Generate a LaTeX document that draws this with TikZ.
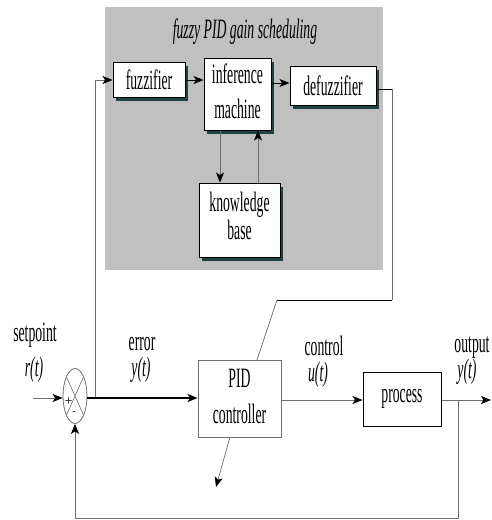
\documentclass[tikz,border=0pt]{standalone}
\usepackage{fontspec}
\setmainfont{Liberation Serif}
\usetikzlibrary{arrows.meta,shapes.geometric,shadows}
\definecolor{panelgray}{RGB}{192,192,192}
\definecolor{shadowc}{RGB}{28,66,66}
\definecolor{linegray}{RGB}{110,110,110}
% narrow Times-like lettering, one line and several lines
\newcommand{\nar}[1]{\scalebox{0.49}[1]{#1}}
\newcommand{\narr}[2][1.0]{\scalebox{0.49}[1]{\renewcommand\arraystretch{#1}\begin{tabular}{@{}c@{}}#2\end{tabular}}}
\tikzset{
  bigfont/.style={font=\fontsize{28}{30}\selectfont},
  lbl/.style={bigfont, inner sep=0pt, anchor=base},
  fzbox/.style={draw=black, line width=1pt, fill=white, inner sep=0pt, bigfont,
    drop shadow={shadow xshift=3pt, shadow yshift=-4pt, fill=shadowc, opacity=1}},
  ctlbox/.style={draw=linegray, line width=0.8pt, fill=white, inner sep=0pt, bigfont},
  tip/.style={-{Stealth[length=10pt,width=8pt,inset=2.5pt,black]}},
  thin/.style={draw=linegray, line width=0.7pt},
}
\begin{document}
\begin{tikzpicture}[x=1pt,y=-1pt]
\useasboundingbox (0,0) rectangle (491,520);
\fill[white] (0,0) rectangle (491,520);

% fuzzy gain scheduling panel
\node[fill=panelgray, minimum width=278pt, minimum height=263pt, inner sep=0pt] (panel) at (244,138.5) {};
\node[lbl, font=\fontsize{28}{30}\selectfont\itshape] (title) at (245,38) {\nar{fuzzy PID gain scheduling}};

\node[fzbox, minimum width=72pt, minimum height=35pt] (fuzz) at (149,79.5) {\nar{fuzzifier}};
\node[fzbox, minimum width=67pt, minimum height=72pt] (inf) at (237.5,94) {\narr[1.15]{inference\\machine}};
\node[fzbox, minimum width=86pt, minimum height=39pt] (defuzz) at (333,85.5) {\nar{defuzzifier}};
\node[fzbox, minimum width=81pt, minimum height=74pt] (kb) at (239.5,220) {\narr[0.92]{knowledge\\base}};

% control loop
\node[ctlbox, minimum width=83pt, minimum height=77pt] (pid) at (239.5,398.5) {\narr[1.17]{PID\\controller}};
\node[draw=black, line width=1pt, fill=white, inner sep=0pt, minimum width=78pt, minimum height=54pt,
      bigfont] (proc) at (402,399) {\nar{process}};
\node[ellipse, draw=linegray, line width=0.8pt, minimum width=24pt, minimum height=55pt, inner sep=0pt] (sum) at (75,396) {};
\draw[linegray, line width=0.6pt] (sum.north west) -- (sum.south east) (sum.north east) -- (sum.south west);
\node[font=\fontsize{14}{14}\selectfont, inner sep=0pt] (plus) at (68.5,402) {+};
\node[font=\fontsize{10}{10}\selectfont, inner sep=0pt] (minus) at (74,413) {-};

% coordinates for bends and free ends
\coordinate (src) at (33,398);
\coordinate (tap) at (95,398);
\coordinate (tapup) at (95,80);
\coordinate (dA) at (392,89);
\coordinate (dB) at (392,300);
\coordinate (dC) at (277,300);
\coordinate (dD) at (257,360);
\coordinate (pidout) at (230,437);
\coordinate (pidarr) at (216,487);
\coordinate (ytap) at (458,400);
\coordinate (yend) at (491,400);
\coordinate (fbA) at (458,518);
\coordinate (fbB) at (75,518);

% fuzzy block connectors
\draw[thin, tip] (tap) -- (tapup) -- (fuzz.west |- tapup);
\draw[black, line width=1pt, tip] (fuzz.east |- 0,80) -- (inf.west |- 0,80);
\draw[black, line width=1pt, tip] (inf.east |- 0,83) -- (defuzz.west |- 0,83);
\draw[black, line width=1pt] (defuzz.east |- dA) -- (dA);
\draw[thin] (dA) -- (dB);
\draw[black, line width=1pt] (dB) -- (dC);
\draw[thin] (dC) -- (dD);
\draw[thin, tip] (inf.south -| 220,0) -- (kb.north -| 220,0);
\draw[thin, tip] (kb.north -| 258,0) -- (inf.south -| 258,0);

% loop connectors
\draw[thin, tip] (src) -- (sum.west |- src);
\draw[black, line width=1.8pt, tip] (sum.east |- tap) -- (pid.west |- tap);
\draw[thin, tip] (pid.east |- ytap) -- (proc.west |- ytap);
\draw[thin, tip] (proc.east |- ytap) -- (yend);
\draw[thin, tip] (ytap) -- (fbA) -- (fbB) -- (sum.south);
\draw[thin, tip] (pidout) -- (pidarr);

% signal labels
\node[lbl] (lsp) at (35,341) {\nar{setpoint}};
\node[lbl] (lr) at (34,376) {\nar{\itshape r(t)}};
\node[lbl] (lerr) at (142,350) {\nar{error}};
\node[lbl] (ly1) at (141,376) {\nar{\itshape y(t)}};
\node[lbl] (lctl) at (324,355) {\nar{control}};
\node[lbl] (lu) at (318,381) {\nar{\itshape u(t)}};
\node[lbl] (lout) at (472,352) {\nar{output}};
\node[lbl] (ly2) at (467,378) {\nar{\itshape y(t)}};
\end{tikzpicture}
\end{document}
